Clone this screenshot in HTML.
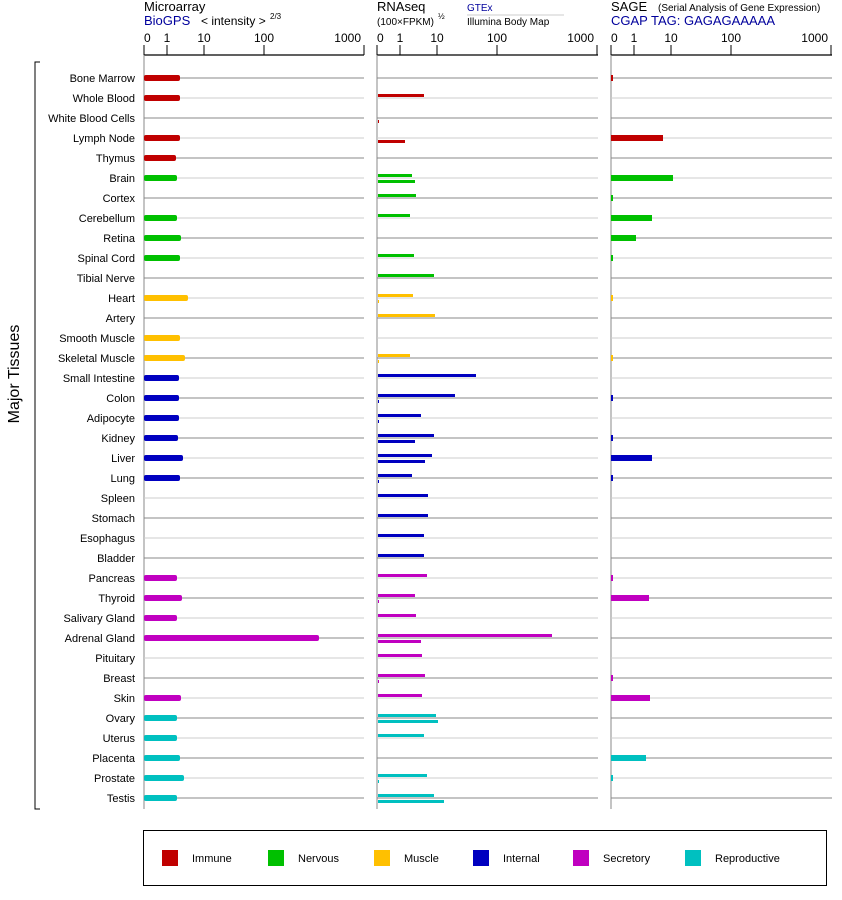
<!DOCTYPE html>
<html><head><meta charset="utf-8"><style>
body{margin:0;background:#fff;}
svg{display:block;font-family:"Liberation Sans",sans-serif;}
</style></head><body>
<svg id="s" width="842" height="900" xmlns="http://www.w3.org/2000/svg"></svg>
<script>
const C={I:"#c00000",N:"#00c000",M:"#ffc000",T:"#0000c0",S:"#c000c0",R:"#00c0c0"};
// name, color, microarray end, gtex end, illumina end, sage end (0 = none)
const rows=[
["Bone Marrow","I",180,0,0,613],
["Whole Blood","I",180,424,0,0],
["White Blood Cells","I",0,0,379,0],
["Lymph Node","I",180,0,405,663],
["Thymus","I",176,0,0,0],
["Brain","N",177,412,415,673],
["Cortex","N",0,416,0,613],
["Cerebellum","N",177,410,0,652],
["Retina","N",181,0,0,636],
["Spinal Cord","N",180,414,0,613],
["Tibial Nerve","N",0,434,0,0],
["Heart","M",188,413,379,613],
["Artery","M",0,435,0,0],
["Smooth Muscle","M",180,0,0,0],
["Skeletal Muscle","M",185,410,379,613],
["Small Intestine","T",179,476,0,0],
["Colon","T",179,455,379,613],
["Adipocyte","T",179,421,379,0],
["Kidney","T",178,434,415,613],
["Liver","T",183,432,425,652],
["Lung","T",180,412,379,613],
["Spleen","T",0,428,0,0],
["Stomach","T",0,428,0,0],
["Esophagus","T",0,424,0,0],
["Bladder","T",0,424,0,0],
["Pancreas","S",177,427,0,613],
["Thyroid","S",182,415,379,649],
["Salivary Gland","S",177,416,0,0],
["Adrenal Gland","S",319,552,421,0],
["Pituitary","S",0,422,0,0],
["Breast","S",0,425,379,613],
["Skin","S",181,422,0,650],
["Ovary","R",177,436,438,0],
["Uterus","R",177,424,0,0],
["Placenta","R",180,0,0,646],
["Prostate","R",184,427,379,613],
["Testis","R",177,434,444,0]];
let h='';
const P=[[144,364],[377,598],[611,832]];
const ticks=[[0,"0"],[23,"1"],[60,"10"],[120,"100"],[220,"1000"]];
P.forEach(([a,b])=>{
 h+=`<line x1="${a}" y1="55" x2="${b}" y2="55" stroke="#000" stroke-width="1.3"/>`;
 h+=`<line x1="${a}" y1="45" x2="${a}" y2="809" stroke="#888" stroke-width="1"/>`;
 ticks.forEach(([d,t],i)=>{const x=a+d;
  h+=`<line x1="${x}" y1="45" x2="${x}" y2="55" stroke="#000"/>`;
  h+=`<text x="${i==4?x-3:x}" y="42" font-size="12" text-anchor="${i==4?'end':(i==0?'start':'middle')}">${t}</text>`;});
});
rows.forEach((r,i)=>{
 const y=78+i*20;const col=C[r[1]];
 const lc=i%2==0?"#888":"#ccc";
 P.forEach(([a,b])=>{h+=`<line x1="${a}" y1="${y}" x2="${b}" y2="${y}" stroke="${lc}" stroke-width="1"/>`;});
 h+=`<text x="135" y="${y+4}" font-size="11" text-anchor="end">${r[0]}</text>`;
 if(r[2])h+=`<rect x="144" y="${y-3}" width="${r[2]-144}" height="6" rx="2" fill="${col}"/>`;
 if(r[3])h+=`<rect x="378" y="${y-4}" width="${r[3]-378}" height="3" fill="${col}"/>`;
 if(r[4])h+=`<rect x="378" y="${y+2}" width="${r[4]-378}" height="3" fill="${col}"/>`;
 if(r[5])h+=`<rect x="611" y="${y-3}" width="${r[5]-611}" height="6" fill="${col}"/>`;
});
// headers
h+=`<text x="144" y="11" font-size="13">Microarray</text>
<text x="144" y="25" font-size="13" fill="#00009c">BioGPS</text>
<text x="201" y="25" font-size="12">&lt; intensity &gt;</text><text x="270" y="19" font-size="8">2/3</text>
<text x="377" y="11" font-size="13">RNAseq</text>
<text x="377" y="25" font-size="10">(100×FPKM)</text><text x="438" y="19" font-size="8">½</text>
<text x="467" y="11" font-size="10" fill="#00009c">GTEx</text>
<line x1="467" y1="15" x2="564" y2="15" stroke="#ccc"/>
<text x="467" y="25" font-size="10">Illumina Body Map</text>
<text x="611" y="11" font-size="13">SAGE</text>
<text x="658" y="11" font-size="10">(Serial Analysis of Gene Expression)</text>
<text x="611" y="25" font-size="13" fill="#00009c">CGAP TAG: GAGAGAAAAA</text>`;
// bracket
h+=`<path d="M40 62 H35 V809 H40" fill="none" stroke="#000"/>
<text transform="translate(19,374) rotate(-90)" font-size="16" text-anchor="middle">Major Tissues</text>`;
// legend
h+=`<rect x="143.5" y="830.5" width="683" height="55" fill="none" stroke="#000"/>`;
[["Immune","I",162],["Nervous","N",268],["Muscle","M",374],["Internal","T",473],["Secretory","S",573],["Reproductive","R",685]].forEach(([t,c,x])=>{
 h+=`<rect x="${x}" y="850" width="16" height="16" fill="${C[c]}"/><text x="${x+30}" y="862" font-size="11">${t}</text>`;});
document.getElementById('s').innerHTML=h;
</script>
</body></html>
